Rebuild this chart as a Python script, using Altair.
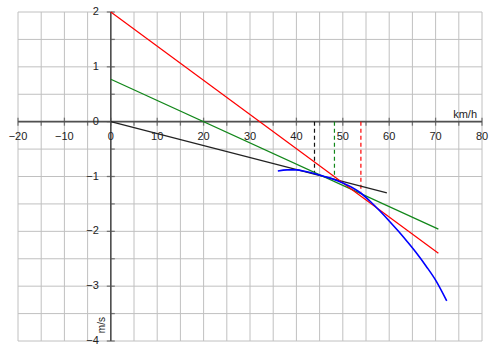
import altair as alt
import pandas as pd

# ---- data ----
blue_x = [36, 38, 40, 42, 44, 46, 48, 50, 52, 54, 56, 58, 60, 62, 64, 66, 68, 70, 72.4]
blue_y = [-0.90, -0.88, -0.88, -0.91, -0.95, -1.00, -1.05, -1.12, -1.20, -1.31, -1.46,
          -1.63, -1.81, -2.00, -2.20, -2.41, -2.64, -2.89, -3.27]

red_x = [0, 70.6]
red_y = [2.0, -2.40]
green_x = [0, 70.6]
green_y = [0.774, -1.96]
black_x = [0, 59.5]
black_y = [0.0, -1.30]

dash_x = [43.9, 48.2, 53.9]
dash_y = [-0.93, -1.03, -1.29]
dash_name = ["black", "green", "red"]

x_grid = list(range(-20, 81, 5))
y_grid = [v / 2 for v in range(-8, 5)]
x_major = list(range(-20, 81, 10))
x_minor = list(range(-15, 80, 10))
y_major = list(range(-4, 3))
y_minor = [-3.5, -2.5, -1.5, -0.5, 0.5, 1.5]
x_labels = ["−20", "−10", "0", "10", "20", "30", "40", "50", "60", "70", "80"]
y_labels = ["−4", "−3", "−2", "−1", "0", "1", "2"]

x_unit = "km/h"
y_unit = "m/s"

# ---- build chart ----
xs = alt.Scale(domain=[-20, 80], nice=False, zero=False)
ys = alt.Scale(domain=[-4, 2], nice=False, zero=False)
X = lambda f: alt.X(f, type="quantitative", scale=xs, axis=None)
Y = lambda f: alt.Y(f, type="quantitative", scale=ys, axis=None)

GRID = "#c0c0c0"
AXIS = "#505050"
TXT = "#222222"
FONT = "Liberation Sans"

vgrid = alt.Chart(pd.DataFrame({"x": x_grid, "y": -4, "y2": 2})).mark_rule(
    color=GRID, strokeWidth=1).encode(x=X("x"), y=Y("y"), y2="y2")
hgrid = alt.Chart(pd.DataFrame({"y": y_grid, "x": -20, "x2": 80})).mark_rule(
    color=GRID, strokeWidth=1).encode(y=Y("y"), x=X("x"), x2="x2")

xaxis = alt.Chart(pd.DataFrame({"x": [-20], "x2": [80], "y": [0]})).mark_rule(
    color=AXIS, strokeWidth=1.6).encode(x=X("x"), x2="x2", y=Y("y"))
yaxis = alt.Chart(pd.DataFrame({"y": [-4], "y2": [2], "x": [0]})).mark_rule(
    color=AXIS, strokeWidth=1.6).encode(y=Y("y"), y2="y2", x=X("x"))

xmaj = alt.Chart(pd.DataFrame({"x": x_major, "y": 0})).mark_tick(
    color=AXIS, orient="vertical", size=8, thickness=1.3).encode(x=X("x"), y=Y("y"))
xmin = alt.Chart(pd.DataFrame({"x": x_minor, "y": 0})).mark_tick(
    color=AXIS, orient="vertical", size=4, thickness=1.3, yOffset=2).encode(x=X("x"), y=Y("y"))
ymaj = alt.Chart(pd.DataFrame({"y": y_major, "x": 0})).mark_tick(
    color=AXIS, orient="horizontal", size=8, thickness=1.3).encode(x=X("x"), y=Y("y"))
ymin = alt.Chart(pd.DataFrame({"y": y_minor, "x": 0})).mark_tick(
    color=AXIS, orient="horizontal", size=4, thickness=1.3, xOffset=2).encode(x=X("x"), y=Y("y"))

xlab = alt.Chart(pd.DataFrame({"x": x_major, "y": 0, "t": x_labels})).mark_text(
    font=FONT, fontSize=11, color=TXT, align="center", baseline="middle", dy=15).encode(
    x=X("x"), y=Y("y"), text="t:N")
ylab = alt.Chart(pd.DataFrame({"y": y_major, "x": 0, "t": y_labels})).mark_text(
    font=FONT, fontSize=11, color=TXT, align="right", baseline="middle", dx=-12).encode(
    x=X("x"), y=Y("y"), text="t:N")

xunit = alt.Chart(pd.DataFrame({"x": [80], "y": [0], "t": [x_unit]})).mark_text(
    font=FONT, fontSize=11, color=TXT, align="right", baseline="middle", dx=-5, dy=-7).encode(
    x=X("x"), y=Y("y"), text="t:N")
yunit = alt.Chart(pd.DataFrame({"x": [-1.8], "y": [-3.71], "t": [y_unit]})).mark_text(
    font=FONT, fontSize=10, color=TXT, align="center", baseline="middle", angle=270).encode(
    x=X("x"), y=Y("y"), text="t:N")

def seg(xv, yv, color, width=1.2, interp="linear"):
    return alt.Chart(pd.DataFrame({"x": xv, "y": yv})).mark_line(
        color=color, strokeWidth=width, interpolate=interp).encode(x=X("x"), y=Y("y"))

red = seg(red_x, red_y, "#ff0000")
green = seg(green_x, green_y, "#12871a")
black = seg(black_x, black_y, "#222222")
blue = seg(blue_x, blue_y, "#0000ff", 1.6, "monotone")

dash_df = pd.DataFrame({"x": dash_x, "y": 0, "y2": dash_y, "c": dash_name})
dashes = alt.Chart(dash_df).mark_rule(strokeWidth=1.2, strokeDash=[4, 3]).encode(
    x=X("x"), y=Y("y"), y2="y2",
    color=alt.Color("c:N", scale=alt.Scale(domain=["black", "green", "red"],
                                           range=["#111111", "#12871a", "#ff0000"]), legend=None))

chart = alt.layer(vgrid, hgrid, xaxis, yaxis, xmaj, xmin, ymaj, ymin, xlab, ylab,
                  xunit, yunit, dashes, black, green, red, blue).properties(
    width=464, height=329, autosize="none",
    padding={"left": 18, "top": 12, "right": 18, "bottom": 12},
    background="white",
).configure_view(stroke=None)

chart.save("out.html", embed_options={"renderer": "svg", "actions": False})
